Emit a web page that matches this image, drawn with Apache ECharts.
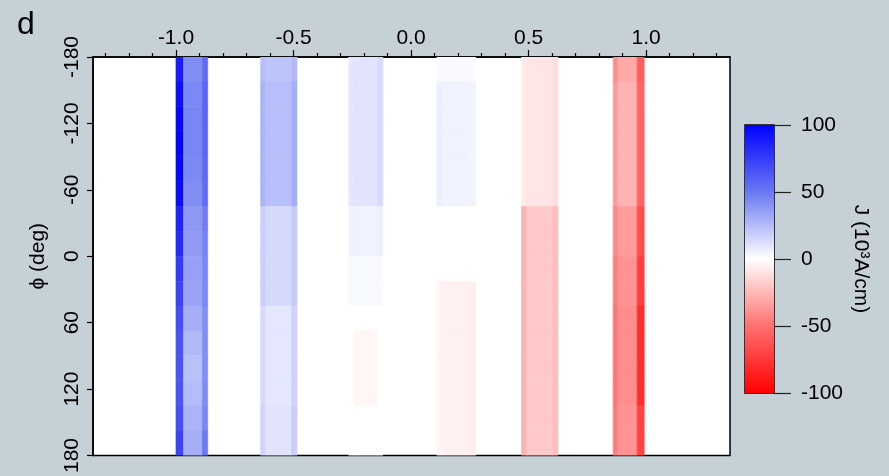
<!DOCTYPE html>
<html>
<head>
<meta charset="utf-8">
<title>J map</title>
<script src="https://cdn.jsdelivr.net/npm/echarts@6/dist/echarts.min.js"></script>
<style>
html, body { margin: 0; padding: 0; background: #c5d0d7; }
#jChart { width: 889px; height: 476px; }
</style>
</head>
<body>
<div id="jChart"></div>
<script>
// phi row edges (deg), rows 22.5 deg tall
const phiEdges = [-180, -157.5, -135, -112.5, -90, -67.5, -45, -22.5, 0, 22.5, 45, 67.5, 90, 112.5, 135, 157.5, 180];

// x edges of each stripe: left edge col / middle col / right edge col
const stripeX = [
  [-1.0, -0.968, -0.888, -0.865],
  [-0.64, -0.618, -0.508, -0.485],
  [-0.265, -0.243, -0.142, -0.12],
  [0.11, 0.132, 0.253, 0.275],
  [0.47, 0.492, 0.603, 0.625],
  [0.86, 0.88, 0.962, 0.992]
];

// J (10^3 A/cm), one row per phi row: [left, middle, right]
const J1 = [
  [88, 42, 55], [94, 44, 58], [97, 45, 58], [98, 45, 57], [97, 44, 56], [95, 42, 55],
  [85, 38, 48], [82, 37, 46], [76, 35, 45], [72, 34, 44], [68, 30, 42], [66, 26, 42],
  [65, 23, 42], [65, 25, 43], [67, 28, 45], [72, 30, 50]
];
const J2 = [
  [24, 22, 26], [28, 24, 30], [28, 24, 30], [28, 24, 30], [28, 24, 30], [28, 24, 30],
  [18, 14, 19], [18, 14, 19], [18, 14, 19], [18, 14, 19], [14, 9, 16], [14, 9, 16],
  [14, 9, 16], [14, 9, 16], [16, 10, 18], [16, 10, 18]
];
const J3 = [
  [9, 10, 14], [9, 10, 14], [9, 10, 14], [9, 10, 14], [9, 10, 14], [9, 10, 14],
  [5, 5, 6], [5, 5, 6], [2, 2, 2], [2, 2, 2], [0, 0, 0], [0, -3, 0],
  [0, -3, 0], [0, -3, 0], [0, 0, 0], [0, 0, 0]
];
const J4 = [
  [2, 2, 1], [6, 5, 4], [6, 5, 4], [6, 5, 4], [6, 5, 4], [6, 5, 4],
  [0, 0, 0], [0, 0, 0], [0, 0, 0], [-4, -5, -6], [-4, -5, -6], [-4, -5, -6],
  [-4, -5, -6], [-4, -5, -6], [-4, -5, -6], [-4, -5, -6]
];
const J5 = [
  [-7, -9, -12], [-7, -9, -12], [-7, -9, -12], [-7, -9, -12], [-7, -9, -12], [-7, -9, -12],
  [-27, -19, -23], [-27, -19, -23], [-27, -19, -23], [-27, -19, -23], [-27, -19, -23], [-27, -19, -23],
  [-27, -19, -23], [-27, -19, -23], [-27, -19, -23], [-27, -19, -23]
];
const J6 = [
  [-40, -30, -58], [-36, -27, -55], [-36, -27, -55], [-36, -27, -55], [-36, -27, -55], [-36, -27, -55],
  [-42, -35, -65], [-42, -35, -65], [-45, -38, -72], [-45, -38, -72], [-48, -40, -80], [-48, -40, -80],
  [-48, -40, -80], [-48, -40, -80], [-46, -38, -70], [-46, -38, -70]
];
const stripeJ = [J1, J2, J3, J4, J5, J6];

const xRange = [-1.353, 1.357];
const xMajor = [-1.0, -0.5, 0.0, 0.5, 1.0];
const xMinor = [-1.3, -1.2, -1.1, -0.9, -0.8, -0.7, -0.6, -0.4, -0.3, -0.2, -0.1,
  0.1, 0.2, 0.3, 0.4, 0.6, 0.7, 0.8, 0.9, 1.1, 1.2, 1.3];
const phiRange = [-180, 180];
const phiStep = 60;
const cbarTicks = [-100, -50, 0, 50, 100];
const cmap = ['#ff0000', '#ff7070', '#ffffff', '#6a78f2', '#0000ff'];

// cells: [x0, x1, phi0, phi1, J]
let cells = [];
for (let s = 0; s < stripeX.length; s++) {
  for (let r = 0; r < phiEdges.length - 1; r++) {
    for (let c = 0; c < 3; c++) {
      cells.push([stripeX[s][c], stripeX[s][c + 1], phiEdges[r], phiEdges[r + 1], stripeJ[s][r][c]]);
    }
  }
}

const font = 'Liberation Sans';
const black = '#000';

let myChart = echarts.init(document.getElementById('jChart'));

const option = {
  backgroundColor: '#c5d0d7',
  animation: false,
  title: {
    text: 'd', left: 12, top: 4,
    textStyle: { fontFamily: font, fontSize: 32, fontWeight: 'normal', color: black }
  },
  grid: [
    { left: 93, top: 57, width: 637, height: 405, show: true, backgroundColor: '#fff', borderColor: black, borderWidth: 1.5 },
    { left: 745, top: 125, width: 29, height: 268, show: true, backgroundColor: '#fff', borderColor: black, borderWidth: 1.5 }
  ],
  visualMap: {
    type: 'continuous', show: false, seriesIndex: 0, dimension: 4,
    min: cbarTicks[0], max: cbarTicks[cbarTicks.length - 1],
    inRange: { color: cmap }
  },
  xAxis: [
    {
      type: 'value', gridIndex: 0, position: 'top', min: xRange[0], max: xRange[1],
      axisLine: { onZero: false, lineStyle: { color: black, width: 1.5 } },
      axisTick: { customValues: xMajor, length: 7, lineStyle: { color: black, width: 1.2 } },
      splitLine: { show: false },
      axisLabel: {
        customValues: xMajor,
        color: black, fontFamily: font, fontSize: 21, margin: 8,
        formatter: v => v.toFixed(1)
      }
    },
    { type: 'value', gridIndex: 1, min: 0, max: 1, show: false },
    {
      // minor ticks of the top axis
      type: 'value', gridIndex: 0, position: 'top', min: xRange[0], max: xRange[1],
      axisLine: { show: false, onZero: false },
      axisTick: { customValues: xMinor, length: 4, lineStyle: { color: black, width: 1.2 } },
      axisLabel: { show: false },
      splitLine: { show: false }
    }
  ],
  yAxis: [
    {
      type: 'value', gridIndex: 0, inverse: true, min: phiRange[0], max: phiRange[1], interval: phiStep,
      name: 'ϕ (deg)', nameLocation: 'middle', nameRotate: 90, nameGap: 44,
      nameTextStyle: { color: black, fontFamily: font, fontSize: 21 },
      axisLine: { onZero: false, lineStyle: { color: black, width: 1.5 } },
      axisTick: { length: 6, lineStyle: { color: black, width: 1.2 } },
      splitLine: { show: false },
      axisLabel: { color: black, fontFamily: font, fontSize: 21, rotate: 90, margin: 10 }
    },
    {
      type: 'value', gridIndex: 1, position: 'right', min: cbarTicks[0], max: cbarTicks[cbarTicks.length - 1], interval: 50,
      name: 'J (10³A/cm)', nameLocation: 'middle', nameRotate: -90, nameGap: 76,
      nameTextStyle: { color: black, fontFamily: font, fontSize: 21 },
      axisLine: { show: false, onZero: false },
      axisTick: { length: 17, lineStyle: { color: '#222', width: 1.2 } },
      splitLine: { show: false },
      axisLabel: { color: black, fontFamily: font, fontSize: 21, margin: 27 }
    }
  ],
  series: [
    {
      type: 'custom', xAxisIndex: 0, yAxisIndex: 0, clip: true,
      encode: { x: [0, 1], y: [2, 3] },
      data: cells,
      renderItem: function (params, api) {
        let p0 = api.coord([api.value(0), api.value(2)]);
        let p1 = api.coord([api.value(1), api.value(3)]);
        let col = api.visual('color');
        return {
          type: 'rect',
          shape: { x: Math.min(p0[0], p1[0]), y: Math.min(p0[1], p1[1]), width: Math.abs(p1[0] - p0[0]), height: Math.abs(p1[1] - p0[1]) },
          style: { fill: col, stroke: col, lineWidth: 0.6 }
        };
      }
    },
    {
      // colour bar
      type: 'custom', xAxisIndex: 1, yAxisIndex: 1, silent: true,
      data: [[0, cbarTicks[0], 1, cbarTicks[cbarTicks.length - 1]]],
      renderItem: function (params, api) {
        let p0 = api.coord([api.value(0), api.value(3)]);
        let p1 = api.coord([api.value(2), api.value(1)]);
        let lo = cbarTicks[0], hi = cbarTicks[cbarTicks.length - 1];
        let stops = cbarTicks.map((t, i) => ({ offset: (hi - t) / (hi - lo), color: cmap[i] })).reverse();
        return {
          type: 'rect',
          shape: { x: p0[0], y: p0[1], width: p1[0] - p0[0], height: p1[1] - p0[1] },
          style: { fill: new echarts.graphic.LinearGradient(0, 0, 0, 1, stops) }
        };
      }
    }
  ]
};

myChart.setOption(option);
window.addEventListener('resize', function () {
  myChart.resize();
});
</script>
</body>
</html>
